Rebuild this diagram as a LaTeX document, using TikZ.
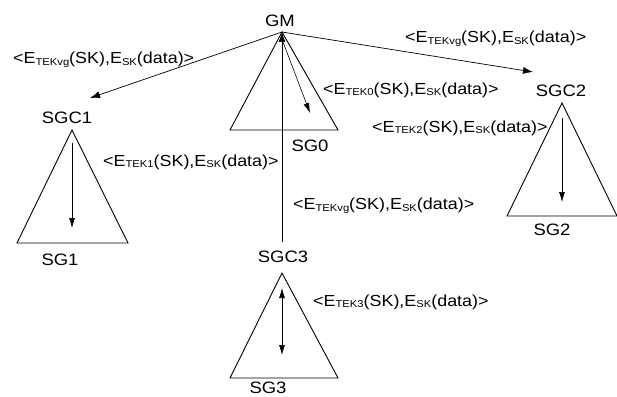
\documentclass[tikz,border=0pt]{standalone}
\usepackage{fontspec}
\setmainfont{Liberation Sans}[FakeStretch=1.12]
\usetikzlibrary{arrows.meta}
\newcommand{\lo}[1]{\raisebox{-0.2ex}{\fontsize{10}{10}\selectfont #1}}
\newcommand{\msgtxt}[1]{<E\lo{#1}(SK),E\lo{SK}(data)>}
\begin{document}
\begin{tikzpicture}[
  x=1pt, y=-1pt,
  grp/.style={font=\fontsize{16.5}{18}\selectfont, inner sep=0pt},
  lbl/.style={font=\fontsize{16}{18}\selectfont, inner sep=0pt, anchor=west},
  tri/.style={draw=black, line width=0.9pt},
  msg/.style={draw=black, line width=0.7pt, -{Latex[length=10pt,width=7pt]}},
  inner/.style={draw=black, line width=0.6pt, -{Latex[length=10pt,width=6pt]}}
]
  \useasboundingbox (0,0) rectangle (617,396);

  % Sommets des triangles (apex) et bases
  \coordinate (gm)  at (282,32);
  \coordinate (a1)  at (72,130);
  \coordinate (a2)  at (562,103);
  \coordinate (a3)  at (282,273);

  % Triangles des sous-groupes
  \draw[tri] (gm) -- ++(-52,98) -- ++(108,0) -- cycle;
  \draw[tri] (a1) -- ++(-55,113) -- ++(111,0) -- cycle;
  \draw[tri] (a2) -- ++(-55,113) -- ++(110,0) -- cycle;
  \draw[tri] (a3) -- ++(-52,105) -- ++(108,0) -- cycle;

  % Noms des noeuds
  \node[grp] (GM)   at (280,21)  {GM};
  \node[grp] (SGC1) at (67,118)  {SGC1};
  \node[grp] (SGC2) at (561,91)  {SGC2};
  \node[grp] (SGC3) at (283,257) {SGC3};
  \node[grp] (SG0)  at (310,146) {SG0};
  \node[grp] (SG1)  at (60,260)  {SG1};
  \node[grp] (SG2)  at (552,230) {SG2};
  \node[grp] (SG3)  at (268,388) {SG3};

  % Extremites des fleches
  \coordinate (e1)  at (90,98);
  \coordinate (e2)  at (533,72);
  \coordinate (s0)  at (283,42);
  \coordinate (t0)  at (310,113);
  \coordinate (s1)  at (72,143);
  \coordinate (t1)  at (72,228);
  \coordinate (s2)  at (562,118);
  \coordinate (t2)  at (562,202);
  \coordinate (s3)  at (282,288);
  \coordinate (t3)  at (282,355);
  \coordinate (v3)  at (282,242);

  % Diffusion depuis GM
  \draw[msg] (gm) -- (e1);
  \draw[msg] (gm) -- (e2);
  \draw[msg] (v3) -- (gm);

  % Diffusion dans chaque sous-groupe
  \draw[inner] (s0) -- (t0);
  \draw[inner] (s1) -- (t1);
  \draw[inner] (s2) -- (t2);
  \draw[inner, {Latex[length=10pt,width=6pt]}-{Latex[length=10pt,width=6pt]}] (s3) -- (t3);

  % Messages
  \node[lbl] (m1)  at (13,60)   {\msgtxt{TEKvg}};
  \node[lbl] (m2)  at (405,39)  {\msgtxt{TEKvg}};
  \node[lbl] (m0)  at (323,90)  {\msgtxt{TEK0}};
  \node[lbl] (mk2) at (372,128) {\msgtxt{TEK2}};
  \node[lbl] (mk1) at (103,162) {\msgtxt{TEK1}};
  \node[lbl] (m3)  at (293,206) {\msgtxt{TEKvg}};
  \node[lbl] (mk3) at (313,302) {\msgtxt{TEK3}};
\end{tikzpicture}
\end{document}
